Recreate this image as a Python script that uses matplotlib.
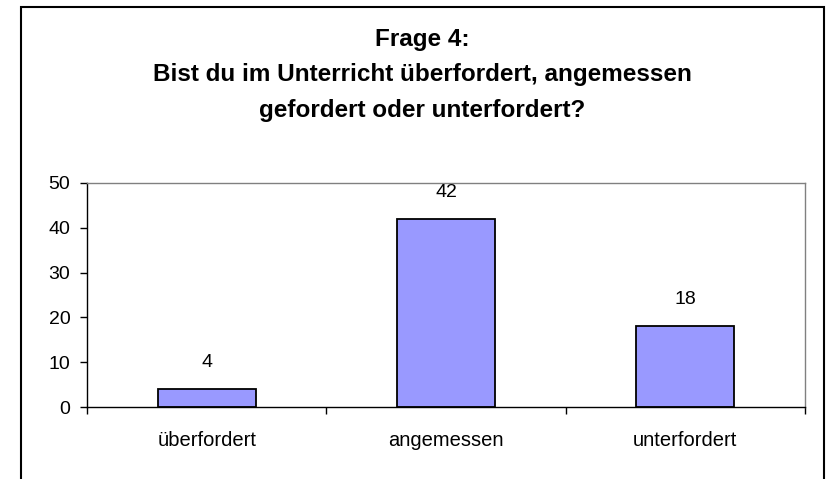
import matplotlib.pyplot as plt
from matplotlib.patches import Rectangle

# Daten
kategorien = ["überfordert", "angemessen", "unterfordert"]
anzahl = [4, 42, 18]
titel = "Frage 4:\nBist du im Unterricht überfordert, angemessen\ngefordert oder unterfordert?"

plt.rcParams['font.family'] = ['Liberation Sans', 'DejaVu Sans']

fig = plt.figure(figsize=(8.29, 4.79), dpi=100)
ax = fig.add_axes([87 / 829, 1 - 407 / 479, (805 - 87) / 829, (407 - 183) / 479])

# äußerer Rahmen (unten abgeschnitten)
fig.patches.append(Rectangle((21 / 829, -0.05), (824 - 21) / 829, 1.05 - 7 / 479,
                             transform=fig.transFigure, fill=False,
                             edgecolor='black', linewidth=1.5, clip_on=False))

x = range(len(kategorien))
ax.bar(x, anzahl, width=0.41, color='#9999FF', edgecolor='black', linewidth=1.3)
for i, v in enumerate(anzahl):
    ax.annotate(str(v), (i, v), xytext=(0, 13), textcoords='offset points',
                ha='center', va='bottom', fontsize=14)

ax.set_xlim(-0.5, 2.5)
ax.set_ylim(0, 50)
ax.set_yticks([0, 10, 20, 30, 40, 50])
ax.set_xticks([0, 1, 2])
ax.set_xticklabels(kategorien)
ax.set_xticks([-0.5, 0.5, 1.5, 2.5], minor=True)
ax.tick_params(axis='x', which='major', length=0, pad=17, labelsize=14.5)
ax.tick_params(axis='x', which='minor', length=5, width=1, direction='out')
ax.tick_params(axis='y', length=5, width=1, direction='out', pad=7, labelsize=14)

for s in ['top', 'right']:
    ax.spines[s].set_color('#808080')
    ax.spines[s].set_linewidth(1)
for s in ['left', 'bottom']:
    ax.spines[s].set_color('black')
    ax.spines[s].set_linewidth(1)

fig.text(422 / 829, 1 - 75 / 479, titel, ha='center', va='center',
         fontsize=17.5, fontweight='bold', linespacing=1.68)

fig.savefig("out.png", dpi=100)
